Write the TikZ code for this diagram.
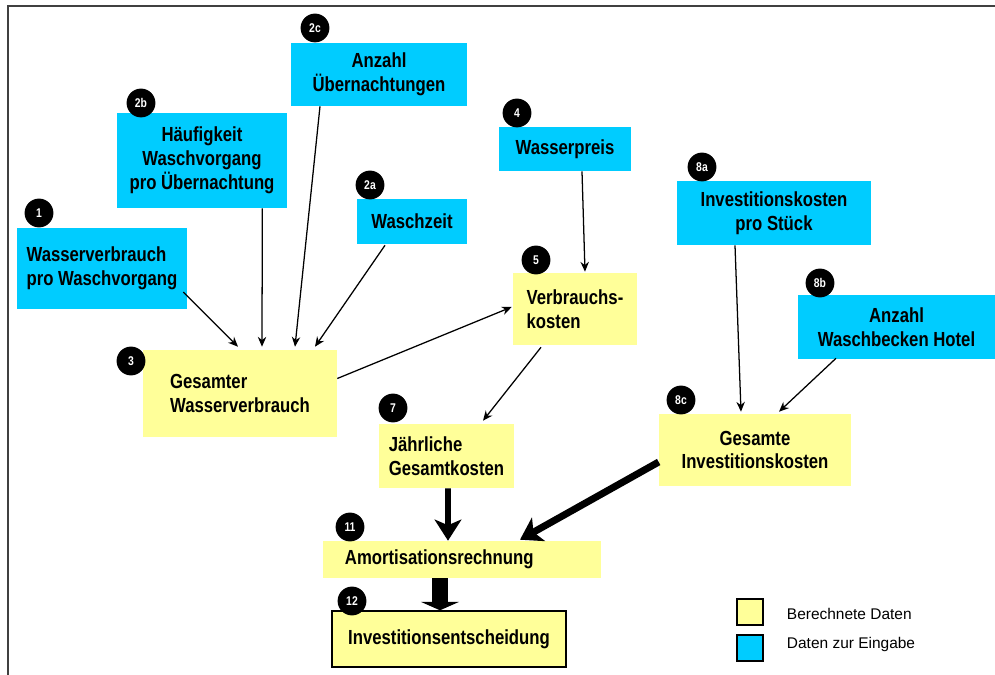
\documentclass[tikz,border=0pt]{standalone}
\usepackage{fontspec}
\setmainfont{Liberation Sans}[FakeStretch=0.82]
\newfontfamily\legendfont{Liberation Sans}
\usetikzlibrary{arrows.meta}
\definecolor{eingabe}{HTML}{00CCFF}
\definecolor{berechnet}{HTML}{FFFF99}
\tikzset{
	kasten/.style={
		rectangle,
		inner sep=0pt,
		font=\fontsize{14.5}{17}\selectfont\bfseries
	},
	inbox/.style={kasten, fill=eingabe, align=center},
	calcbox/.style={kasten, fill=berechnet, align=left},
	nr/.style={
		circle,
		fill=black,
		text=white,
		inner sep=0pt,
		minimum size=0.72cm,
		font=\fontsize{9}{9}\selectfont\bfseries
	},
	pfeil/.style={-{Stealth[length=7pt, width=6pt]}, line width=0.9pt},
	dickpfeil/.style={-{Stealth[length=15pt, width=19pt, inset=4pt]}, line width=4pt}
}

\begin{document}
\begin{tikzpicture}[x=0.025cm, y=-0.025cm]
\useasboundingbox (0, 0) rectangle (995, 675);
\draw[line width=1.5pt, black!75] (8, 675) -- (8, 6) -- (995, 6);

% Eingabedaten
\node[inbox, minimum width=4.4cm, minimum height=1.575cm] (A2c) at (379, 74.5) {Anzahl\\\"Ubernachtungen};
\node[inbox, minimum width=4.25cm, minimum height=2.375cm] (A2b) at (202, 160.5) {H\"aufigkeit\\Waschvorgang\\pro \"Ubernachtung};
\node[inbox, minimum width=2.75cm, minimum height=1.125cm] (A2a) at (412, 221.5) {Waschzeit};
\node[inbox, align=left, minimum width=4.25cm, minimum height=2.025cm] (A1) at (102, 268.5) {Wasserverbrauch\\pro Waschvorgang};
\node[inbox, minimum width=3.3cm, minimum height=1.1cm] (A4) at (565, 149) {Wasserpreis};
\node[inbox, minimum width=4.85cm, minimum height=1.6cm] (A8a) at (774, 213) {Investitionskosten\\pro St\"uck};
\node[inbox, minimum width=4.925cm, minimum height=1.6cm] (A8b) at (896.5, 327) {Anzahl\\Waschbecken Hotel};

% berechnete Daten
\node[calcbox, minimum width=4.85cm, minimum height=2.175cm] (A3) at (240, 393.5) {Gesamter\\Wasserverbrauch};
\node[calcbox, minimum width=3.1cm, minimum height=1.8cm] (A5) at (575, 309) {Verbrauchs-\\kosten};
\node[calcbox, minimum width=3.375cm, minimum height=1.6cm] (A7) at (446.5, 456) {J\"ahrliche\\Gesamtkosten};
\node[calcbox, align=center, minimum width=4.8cm, minimum height=1.8cm] (A8c) at (755, 450) {Gesamte\\Investitionskosten};
\node[calcbox, text width=5.85cm, inner xsep=0.55cm, minimum height=0.925cm] (A11) at (462, 559.5) {Amortisationsrechnung};
\node[calcbox, draw=black, line width=1pt, align=center, minimum width=5.85cm, minimum height=1.4cm] (A12) at (449, 639) {Investitionsentscheidung};

% Nummern
\node[nr] (N2c) at (315, 28) {2c};
\node[nr] (N2b) at (141, 103) {2b};
\node[nr] (N2a) at (370, 185) {2a};
\node[nr] (N1) at (39, 213) {1};
\node[nr] (N3) at (131, 361) {3};
\node[nr] (N4) at (517, 113) {4};
\node[nr] (N5) at (536, 260) {5};
\node[nr] (N8a) at (702, 167) {8a};
\node[nr] (N8b) at (820, 283) {8b};
\node[nr] (N7) at (393, 408) {7};
\node[nr] (N8c) at (681, 400) {8c};
\node[nr] (N11) at (350, 527) {11};
\node[nr] (N12) at (352, 601) {12};

% Verbindungen
\draw[pfeil] ([shift={(-4, 23.5)}]A1.east) -- ([shift={(-2, -3)}]A3.north);
\draw[pfeil] ([shift={(-25, 0)}]A2b.south east) -- ([shift={(22, -3)}]A3.north);
\draw[pfeil] ([shift={(-59, 0)}]A2c.south) -- ([shift={(55, -3)}]A3.north);
\draw[pfeil] ([shift={(-27, 1)}]A2a.south) -- ([shift={(75, -3)}]A3.north);
\draw[pfeil] ([shift={(0, -15)}]A3.east) -- ([shift={(-1, -2)}]A5.west);
\draw[pfeil] ([shift={(17, 0)}]A4.south) -- ([shift={(10, -1)}]A5.north);
\draw[pfeil] ([shift={(-34, 2)}]A5.south) -- ([shift={(36.5, -3)}]A7.north);
\draw[pfeil] ([shift={(-39, 0)}]A8a.south) -- ([shift={(-14, -2)}]A8c.north);
\draw[pfeil] ([shift={(-60.5, -1)}]A8b.south) -- ([shift={(24, -2)}]A8c.north);
\draw[dickpfeil] ([shift={(1.5, 0)}]A7.south) -- ([shift={(-14, 0)}]A11.north);
\draw[dickpfeil, line width=5pt] ([shift={(0, 12)}]A8c.west) -- ([shift={(58, -1)}]A11.north);
\draw[-{Triangle[length=6pt, width=27pt]}, line width=12pt] ([shift={(-22, 0)}]A11.south) -- ([shift={(-9, 0)}]A12.north);

% Legende
\node[draw=black, line width=1pt, fill=berechnet, minimum size=0.65cm, inner sep=0pt] (L1) at (750, 612) {};
\node[draw=black, line width=1pt, fill=eingabe, minimum size=0.65cm, inner sep=0pt] (L2) at (750, 648) {};
\node[right, font=\legendfont\fontsize{11}{11}\selectfont] (T1) at (782, 614) {Berechnete Daten};
\node[right, font=\legendfont\fontsize{11}{11}\selectfont] (T2) at (782, 644) {Daten zur Eingabe};
\end{tikzpicture}
\end{document}
